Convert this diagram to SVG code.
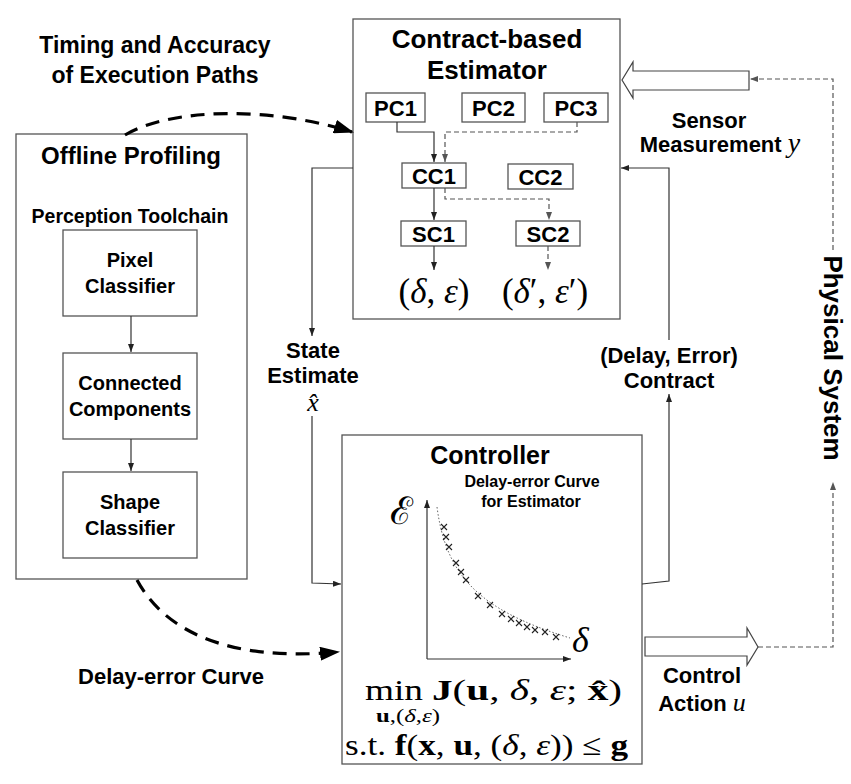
<svg xmlns="http://www.w3.org/2000/svg" width="851" height="784" viewBox="0 0 851 784">
<style>
.box{fill:#fff;stroke:#555;stroke-width:1.3}
.ln{fill:none;stroke:#333;stroke-width:1.2}
.dl{fill:none;stroke:#555;stroke-width:1.2;stroke-dasharray:5 3}
.big{fill:none;stroke:#000;stroke-width:3.2;stroke-dasharray:14 9}
.blk{fill:#fff;stroke:#444;stroke-width:1.2}
.t{font-family:"Liberation Sans",Arial,sans-serif;font-weight:bold;fill:#000;text-anchor:middle}
.m{font-family:"Liberation Serif","DejaVu Serif",serif;fill:#000}
.i{font-style:italic}
.b{font-weight:bold}
.cross{stroke:#222;stroke-width:1.1}
</style>
<defs>
<marker id="ah" markerWidth="8" markerHeight="6" refX="8" refY="3" orient="auto" markerUnits="userSpaceOnUse"><path d="M0,0 L8,3 L0,6 z" fill="#222"/></marker>
<marker id="ahg" markerWidth="8" markerHeight="6" refX="8" refY="3" orient="auto" markerUnits="userSpaceOnUse"><path d="M0,0 L8,3 L0,6 z" fill="#555"/></marker>
<marker id="big" markerWidth="20" markerHeight="14" refX="18" refY="7" orient="auto" markerUnits="userSpaceOnUse"><path d="M0,0 L20,7 L0,14 z" fill="#000"/></marker>
<g id="x"><path class="cross" d="M-3,-3 L3,3 M-3,3 L3,-3"/></g>
</defs>

<text class="t" x="155" y="53" font-size="23">Timing and Accuracy</text>
<text class="t" x="155" y="83" font-size="23">of Execution Paths</text>

<g id="offline">
<rect class="box" x="16" y="134" width="231" height="445"/>
<text class="t" x="131" y="164" font-size="24">Offline Profiling</text>
<text class="t" x="130" y="223" font-size="19.5">Perception Toolchain</text>
</g>
<g id="pixel">
<rect class="box" x="63" y="230" width="134" height="86"/>
<text class="t" x="130" y="267" font-size="20">Pixel</text>
<text class="t" x="130" y="293" font-size="20">Classifier</text>
</g>
<g id="connected">
<rect class="box" x="63" y="353" width="134" height="86"/>
<text class="t" x="130" y="390" font-size="20">Connected</text>
<text class="t" x="130" y="416" font-size="20">Components</text>
</g>
<g id="shape">
<rect class="box" x="63" y="472" width="134" height="86"/>
<text class="t" x="130" y="509" font-size="20">Shape</text>
<text class="t" x="130" y="535" font-size="20">Classifier</text>
</g>

<g id="estimator">
<rect class="box" x="353" y="19" width="267" height="300"/>
<text class="t" x="487" y="48" font-size="26">Contract-based</text>
<text class="t" x="487" y="79" font-size="26">Estimator</text>
<text class="m" x="434" y="303" font-size="35" text-anchor="middle">(<tspan class="i">δ</tspan>, <tspan class="i">ε</tspan>)</text>
<text class="m" x="545" y="303" font-size="35" text-anchor="middle">(<tspan class="i">δ</tspan>′, <tspan class="i">ε</tspan>′)</text>
</g>
<g id="pc1"><rect class="box" x="366" y="93" width="59" height="29"/><text class="t" x="395.5" y="116" font-size="22">PC1</text></g>
<g id="pc2"><rect class="box" x="462" y="93" width="63" height="29"/><text class="t" x="493.5" y="116" font-size="22">PC2</text></g>
<g id="pc3"><rect class="box" x="544" y="93" width="64" height="29"/><text class="t" x="576" y="116" font-size="22">PC3</text></g>
<g id="cc1"><rect class="box" x="402" y="163" width="64" height="25"/><text class="t" x="434" y="184" font-size="22">CC1</text></g>
<g id="cc2"><rect class="box" x="508" y="164" width="65" height="25"/><text class="t" x="540.5" y="185" font-size="22">CC2</text></g>
<g id="sc1"><rect class="box" x="401" y="221" width="65" height="25"/><text class="t" x="433.5" y="242" font-size="22">SC1</text></g>
<g id="sc2"><rect class="box" x="516" y="221" width="64" height="25"/><text class="t" x="548" y="242" font-size="22">SC2</text></g>

<g id="controller">
<rect class="box" x="342" y="435" width="300" height="329"/>
<text class="t" x="490" y="464" font-size="25">Controller</text>
<text class="t" x="532" y="487" font-size="16">Delay-error Curve</text>
<text class="t" x="531" y="507" font-size="16">for Estimator</text>
<text class="m" x="390" y="524" font-size="38" font-family="DejaVu Serif,serif">ℰ</text>
<path class="ln" d="M427,659 V500" marker-end="url(#ah)"/>
<path class="ln" d="M427,659 H571" marker-end="url(#ah)"/>
<text class="m i" x="572" y="652" font-size="36">δ</text>
<path d="M437,507 C446,575 478,610 570,638" fill="none" stroke="#666" stroke-width="1" stroke-dasharray="1.5 2"/>
<use href="#x" x="444" y="527"/><use href="#x" x="446" y="537"/><use href="#x" x="449" y="547"/>
<use href="#x" x="456" y="563"/><use href="#x" x="461" y="572"/><use href="#x" x="466" y="580"/>
<use href="#x" x="478" y="596"/><use href="#x" x="490" y="605"/><use href="#x" x="502" y="614"/>
<use href="#x" x="511" y="619"/><use href="#x" x="519" y="623"/><use href="#x" x="527" y="627"/>
<use href="#x" x="535" y="630"/><use href="#x" x="545" y="632"/><use href="#x" x="556" y="637"/>
<text class="m" x="365" y="700" font-size="30" textLength="58" lengthAdjust="spacingAndGlyphs">min</text>
<text class="m" x="432" y="700" font-size="30" textLength="190" lengthAdjust="spacingAndGlyphs"><tspan class="b">J</tspan>(<tspan class="b">u</tspan>, <tspan class="i">δ</tspan>, <tspan class="i">ε</tspan>; <tspan class="b">x̂</tspan>)</text>
<text class="m" x="376" y="722" font-size="18" textLength="64" lengthAdjust="spacingAndGlyphs"><tspan class="b">u</tspan>,(<tspan class="i">δ</tspan>,<tspan class="i">ε</tspan>)</text>
<text class="m" x="345" y="755" font-size="30" textLength="283" lengthAdjust="spacingAndGlyphs">s.t. <tspan class="b">f</tspan>(<tspan class="b">x</tspan>, <tspan class="b">u</tspan>, (<tspan class="i">δ</tspan>, <tspan class="i">ε</tspan>)) ≤ <tspan class="b">g</tspan></text>
</g>

<g id="connectors">
<path class="big" d="M125,135 C170,108 270,106 352,132" marker-end="url(#big)"/>
<path class="big" d="M137,580 C165,632 230,662 338,652" marker-end="url(#big)"/>
<path class="ln" d="M131,316 V352" marker-end="url(#ah)"/>
<path class="ln" d="M131,439 V471" marker-end="url(#ah)"/>
<path class="ln" d="M397,122 V132 H434 V162" marker-end="url(#ah)"/>
<path class="dl" d="M577,122 V132 H445 V162" marker-end="url(#ahg)"/>
<path class="ln" d="M434,188 V220" marker-end="url(#ah)"/>
<path class="dl" d="M445,188 V199 H549 V220" marker-end="url(#ahg)"/>
<path class="ln" d="M434,246 V270" marker-end="url(#ah)"/>
<path class="dl" d="M548,246 V270" marker-end="url(#ahg)"/>
<path class="ln" d="M353,168 H312 V336" marker-end="url(#ah)"/>
<path class="ln" d="M312,416 V583 L341,584" marker-end="url(#ah)"/>
<path class="ln" d="M642,584 L669,581 V394" marker-end="url(#ah)"/>
<path class="ln" d="M669,340 V168 H621" marker-end="url(#ah)"/>
<path class="dl" d="M758,647 H833 V482" marker-end="url(#ahg)"/>
<path class="dl" d="M833,250 V79 H750" marker-end="url(#ahg)"/>
<polygon class="blk" points="749,71 633,71 633,62 622,80 633,98 633,90 749,90"/>
<polygon class="blk" points="645,637 747,637 747,628 758,647 747,665 747,656 645,656"/>
</g>

<text class="t" x="313" y="358" font-size="22">State</text>
<text class="t" x="313" y="383" font-size="22">Estimate</text>
<text class="m i" x="313" y="411" font-size="26" text-anchor="middle">x̂</text>
<text class="t" x="669" y="363" font-size="22">(Delay, Error)</text>
<text class="t" x="669" y="388" font-size="22">Contract</text>
<text class="t" x="709" y="128" font-size="22">Sensor</text>
<text class="t" x="720" y="152" font-size="22">Measurement <tspan class="m i" font-weight="normal" font-size="28">y</tspan></text>
<text class="t" x="702" y="683" font-size="22">Control</text>
<text class="t" x="702" y="711" font-size="22">Action <tspan class="m i" font-weight="normal" font-size="26">u</tspan></text>
<text class="t" x="171" y="684" font-size="22">Delay-error Curve</text>
<text class="t" transform="translate(824,358) rotate(90)" font-size="26">Physical System</text>
</svg>
